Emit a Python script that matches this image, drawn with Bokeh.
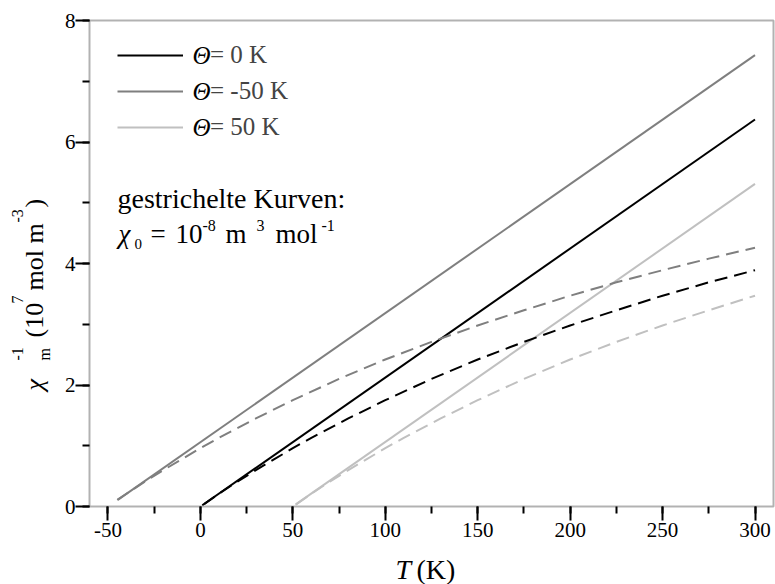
import math
from bokeh.plotting import figure
from bokeh.models import Label, Legend, LegendItem, FixedTicker, Range1d, LinearAxis, BoxAnnotation
from bokeh.embed import file_html
from bokeh.resources import INLINE

# ---- data ----
T_sol_0 = [1, 300]
chi_sol_0 = [0.02, 6.37]
T_sol_m50 = [-44.7, 300]
chi_sol_m50 = [0.11, 7.43]
T_sol_p50 = [51.4, 300]
chi_sol_p50 = [0.03, 5.31]

T_dash_0 = [2, 10, 20, 30, 40, 50, 60, 80, 100, 125, 150, 175, 200, 225, 250, 275, 300]
chi_dash_0 = [0.04, 0.21, 0.41, 0.60, 0.78, 0.96, 1.13, 1.45, 1.75, 2.10, 2.42, 2.71, 2.98, 3.23, 3.47, 3.69, 3.89]
T_dash_m50 = [-45, -40, -30, -20, -10, 0, 10, 30, 50, 75, 100, 125, 150, 175, 200, 225, 250, 275, 300]
chi_dash_m50 = [0.11, 0.21, 0.41, 0.60, 0.78, 0.96, 1.13, 1.45, 1.75, 2.10, 2.42, 2.71, 2.98, 3.23, 3.47, 3.69, 3.89, 4.08, 4.26]
T_dash_p50 = [52, 60, 70, 80, 90, 100, 110, 130, 150, 175, 200, 225, 250, 275, 300]
chi_dash_p50 = [0.04, 0.21, 0.41, 0.60, 0.78, 0.96, 1.13, 1.45, 1.75, 2.10, 2.42, 2.71, 2.98, 3.23, 3.47]

legend_symbol = "Θ"
legend_rest = ["= 0 K", "= -50 K", "= 50 K"]
x_ticks = [-50, 0, 50, 100, 150, 200, 250, 300]
x_minor = [-50, -25, 0, 25, 50, 75, 100, 125, 150, 175, 200, 225, 250, 275, 300]
y_ticks = [0, 2, 4, 6, 8]
y_minor = [0, 1, 2, 3, 4, 5, 6, 7, 8]

C_BLACK = "#000000"
C_GRAY = "#7f7f7f"
C_LIGHT = "#c0c0c0"
FONT = "Liberation Serif"

W, H = 775, 584
# plot box geometry (pixels)
L, R, TOP, BOT = 89, 773, 20, 506
XMIN, XMAX, YMIN, YMAX = -60, 310, 0, 8
KX = (XMAX - XMIN) / (R - L)
KY = (YMAX - YMIN) / (BOT - TOP)


def sx(px):
    return XMIN + (px - L) * KX


def sy(py):
    return YMIN + (BOT - py) * KY


# the frame spans the whole canvas; the box is drawn at the data limits
p = figure(width=W, height=H,
           x_range=Range1d(sx(0), sx(W)), y_range=Range1d(sy(H), sy(0)),
           output_backend="svg", toolbar_location=None,
           x_axis_location=None, y_axis_location=None,
           min_border_left=0, min_border_right=0, min_border_top=0, min_border_bottom=0)
p.grid.visible = False
p.outline_line_color = None
p.background_fill_color = "white"
p.border_fill_color = "white"

xaxis = LinearAxis(fixed_location=YMIN)
yaxis = LinearAxis(fixed_location=XMIN)
p.add_layout(xaxis, "below")
p.add_layout(yaxis, "left")

# (with a fixed-location axis the tick "out" side points into the plot box here)
for ax, maj, mnr in ((xaxis, x_ticks, x_minor), (yaxis, y_ticks, y_minor)):
    ax.ticker = FixedTicker(ticks=maj, minor_ticks=mnr)
    ax.axis_line_color = None
    ax.major_tick_in = 0
    ax.major_tick_out = 14
    ax.minor_tick_in = 0
    ax.minor_tick_out = 7
    ax.major_tick_line_width = 2
    ax.minor_tick_line_width = 2
    ax.major_tick_line_color = "black"
    ax.minor_tick_line_color = "black"
    ax.major_label_text_font = FONT
    ax.major_label_text_font_size = "21px"
    ax.major_label_text_color = "black"
    ax.major_label_overrides = {t: str(t) for t in maj}
xaxis.major_label_standoff = 2
yaxis.major_label_standoff = 0

p.add_layout(BoxAnnotation(left=XMIN, right=XMAX, bottom=YMIN, top=YMAX,
                           fill_color=None, line_color="black", line_width=2))

r0 = p.line(T_sol_0, chi_sol_0, line_color=C_BLACK, line_width=2)
r1 = p.line(T_sol_m50, chi_sol_m50, line_color=C_GRAY, line_width=2)
r2 = p.line(T_sol_p50, chi_sol_p50, line_color=C_LIGHT, line_width=2)
p.line(T_dash_0, chi_dash_0, line_color=C_BLACK, line_width=2, line_dash="13 7")
p.line(T_dash_m50, chi_dash_m50, line_color=C_GRAY, line_width=2, line_dash="13 7")
p.line(T_dash_p50, chi_dash_p50, line_color=C_LIGHT, line_width=2, line_dash="13 7")

ROW = 36
legend = Legend(items=[LegendItem(label=legend_rest[0], renderers=[r0]),
                       LegendItem(label=legend_rest[1], renderers=[r1]),
                       LegendItem(label=legend_rest[2], renderers=[r2])],
                location=(117, H - (55 - ROW // 2) - 3 * ROW),
                glyph_width=66, glyph_height=ROW, label_height=ROW, label_standoff=27,
                spacing=0, padding=0, margin=0, border_line_color=None,
                background_fill_alpha=0, label_text_font=FONT, label_text_font_size="25px")
p.add_layout(legend)


def lab(px, py, text, size, italic=False, angle=0.0):
    # (px, py): left end of the text, vertical middle of the line
    p.add_layout(Label(x=sx(px), y=sy(py), text=text, text_font=FONT, text_font_size=f"{size}px",
                       text_font_style="italic" if italic else "normal", angle=angle,
                       text_align="left", text_baseline="middle", text_color="black"))


# italic Θ in front of each legend label
for i in range(3):
    lab(192, 55 + i * ROW, legend_symbol, 25, italic=True)

# annotation text
lab(117, 198, "gestrichelte Kurven:", 28)
lab(118, 233, "χ", 27, italic=True)
lab(134, 243, "0", 15)
lab(150, 233, "=", 27)
lab(175, 233, "10", 27)
lab(202, 225, "-8", 16)
lab(225, 233, "m", 27)
lab(256, 225, "3", 16)
lab(275, 233, "mol", 27)
lab(321, 225, "-1", 16)

# x axis title
lab(395, 569, "T", 28, italic=True)
lab(416, 569, "(K)", 28)

# y axis title (rotated, reads upwards)
A = math.pi / 2
lab(34, 390, "χ", 26, italic=True, angle=A)
lab(17, 360, "-1", 16, angle=A)
lab(44, 360, "m", 16, angle=A)
lab(34, 337, "(10", 26, angle=A)
lab(17, 303, "7", 16, angle=A)
lab(34, 290, "mol m", 26, angle=A)
lab(17, 222, "-3", 16, angle=A)
lab(34, 207, ")", 26, angle=A)

open("out.html", "w").write(file_html(p, INLINE))
